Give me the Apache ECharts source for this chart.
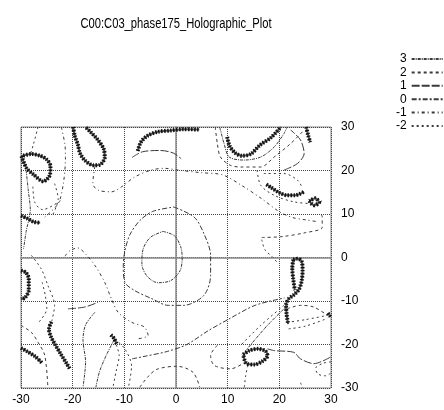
<!DOCTYPE html>
<html>
<head>
<meta charset="utf-8">
<script src="https://cdn.jsdelivr.net/npm/echarts@6/dist/echarts.min.js"></script>
<style>
  html, body { margin: 0; padding: 0; background: #fff; }
  #chart { width: 444px; height: 410px; }
</style>
</head>
<body>
<div id="chart"></div>
<script>
// contour levels shown in the legend
var levels = ['3', '2', '1', '0', '-1', '-2'];
var axisTicks = [-30, -20, -10, 0, 10, 20, 30];
var chartTitle = 'C00:C03_phase175_Holographic_Plot';

// contour lines per level, [x, y]
var contours3 = [
  [[-2.5,6],[-0.3,5],[0.9,2.5],[1.2,0],[0.8,-3],[-1,-5.3],[-3.5,-5.8],[-5.6,-4.3],[-6.6,-1.5],[-6.4,1.8],[-5,4.6],[-2.5,6]],
  [[-29,20],[-28.6,15.5],[-28.2,11],[-29,6],[-29.5,2]],
  [[8.5,29.8],[9.3,26.2],[10.3,23.1],[13.2,22.4],[16.4,23.1],[19,25.4],[20.9,28.5],[21.5,30]],
  [[21.6,-11],[17.7,-15.6],[13.5,-21.4]],
  [[-12,-19],[-13.5,-22.5],[-14.8,-26.2],[-15.5,-29.8]],
  [[-15.7,-12.6],[-17.5,-15.5],[-18,-19],[-17.5,-24],[-18,-29.8]]
];
var contours2 = [
  [[7.6,30],[8,26.2],[8.6,23.1],[10.5,21.2],[12.5,20.8],[16.4,20.8],[19,23.1],[22.2,26.2],[24.8,29.3]],
  [[21.5,-11.8],[24.1,-11],[26.7,-11.4],[29.3,-13.3]],
  [[16.6,4.6],[20.5,4.8],[25,5.7],[28.3,6.9],[28.3,9.4],[27.7,10.3]],
  [[8,-20.2],[6.7,-22.5],[7.4,-24.8],[10.6,-25.6],[13.2,-24.2]],
  [[-30,-15.6],[-28,-17.2],[-26.7,-19.5],[-25.4,-22.5],[-24.8,-29.8]],
  [[-7,-29.8],[-5.5,-27.5],[-3.7,-25.7],[0.2,-25],[3.3,-26.4],[4.6,-29.8]]
];
var contours1 = [
  [[17.7,-21],[19,-21.4],[22.8,-21.8],[24.1,-23.3],[26.7,-24.4],[29.9,-22.9]],
  [[20.9,20.1],[23.5,21.6],[24.8,23.9],[24.1,27],[22.2,29.3]],
  [[-8.5,23],[-6.5,24.3],[-3,24.6],[-0.5,24],[1,22.7]],
  [[-20.9,-11.8],[-17.7,-11.4],[-15.1,-10.3]]
];
var contours0 = [
  [[-0.4,11.6],[3.5,9.3],[5.4,5.5],[6.7,0.5],[6.7,-4.1],[5.4,-8.7],[1.5,-11],[-1.5,-11],[-4.8,-9.4],[-8,-7.6],[-9.9,-5.7],[-10.2,-2],[-9.9,1.5],[-8.9,5.3],[-7,8.5],[-4.5,10.6],[-0.4,11.6]],
  [[-8.5,-23.3],[-6.4,-22.8],[-1.7,-21.6],[2.1,-20],[6,-17],[10,-14.3],[15.3,-11],[21,-9.3]]
];
var contoursM1 = [
  [[-15.7,21],[-16.1,17],[-15.1,15.5],[-12.5,15.1],[-10.6,16.2],[-8,18.5],[-4.8,20.1],[-2.2,20.5],[0.4,20.1],[4.8,19.5],[9,19],[12.8,16.5],[16.6,13.5],[19.9,10.6],[22.5,9.2],[25.4,8.6],[27.6,8.2]],
  [[-22.2,30],[-21.5,26],[-21.4,23],[-21.8,17],[-22.8,12.4],[-25.4,9.3]],
  [[-21.5,0.3],[-20.5,1.6],[-19,2.2],[-17.5,0.8],[-15.7,-1.8],[-13.8,-5.7],[-12.5,-9.5],[-11.2,-12.6],[-8.6,-14.9],[-6.1,-16],[-5.4,-17.9],[-7.4,-18.7]]
];
var contoursM2 = [
  [[15.7,20.1],[16.4,16.6],[19,14.3],[22.8,12.8],[26.7,12.4],[28.6,13.2]],
  [[17,19.3],[20.9,19.3],[23.5,17.8],[24.5,15.9]],
  [[-23.5,17],[-22.8,13.5],[-24,9.5]],
  [[-25.9,-5.7],[-25.3,-8.7],[-25,-11.8],[-26.5,-14.8]],
  [[-12,-19],[-11,-22.5],[-11.6,-26.2],[-12.2,-29.8]],
  [[-11.8,-18.8],[-9.9,-21],[-8.6,-25],[-9.2,-29.8]],
  [[20.9,-11],[16.4,-15.6],[12.5,-20.2]],
  [[-26.7,30],[-27.6,26],[-28.3,23.3]],
  [[16.6,4.1],[17.2,1.8],[18.6,0.2],[19.5,-1]],
  [[21.5,-14.9],[25,-14.3],[29.3,-13.3]],
  [[21.8,-16.4],[25,-15.8],[29.3,-14]],
  [[-27.7,16.3],[-27.3,12.6],[-25.8,11],[-22.2,13.2]],
  [[-28,0.5],[-26.1,-2.6],[-24.8,-6.4],[-23.5,-11],[-24.1,-14.9]],
  [[30,-24],[28.5,-24.3],[27,-25.5],[27.5,-26.8],[29,-27.2],[30,-26.5]],
  [[13.9,-24.8],[13.5,-27.1],[13.2,-30]],
  [[24.1,-28.8],[24.5,-30]]
];

// dense bunched contours (phase wrap bands)
var wrapBands = [
  [[-29.9,23.3],[-28.9,20.5],[-27.6,19.1],[-25.7,17.5],[-24.4,19],[-24.3,21],[-25,22.5],[-26.3,23.4],[-28,23.8],[-29.9,23.3]],
  [[-19.9,30],[-19.6,28],[-19,26],[-18.6,24],[-17.6,22.3],[-16,21.2],[-14.8,21.3],[-13.8,23],[-14,25],[-15.3,27.3],[-16.5,28.8],[-17.5,30]],
  [[-7.4,24.5],[-6.8,26.5],[-5.5,28],[-3.5,28.9],[-1,29.2],[1.5,29.5],[4.5,29.4]],
  [[9.9,27.7],[10.4,25.6],[11.5,24],[12.8,23.4],[14.5,23.8],[16.2,25.8],[18.4,27.6],[20.3,30]],
  [[25.2,30],[25.6,28],[26,26.5]],
  [[17.5,16.8],[18.4,16.1],[20,14.9],[21.5,14.3],[23,14.3],[24.8,15.1]],
  [[25.8,13],[26.7,12],[27.7,12.6],[27,13.6],[25.8,13]],
  [[-30,9.6],[-28.8,9],[-27.5,8.2],[-26.3,8]],
  [[-30,-3],[-29,-3.5],[-28.5,-5],[-28.5,-7.5],[-29.2,-9.2],[-30,-9.6]],
  [[-24.1,-14.8],[-24.6,-16.5],[-24.2,-18.2],[-23.4,-20],[-22.3,-22.2],[-21.2,-24.3],[-20.6,-25.5]],
  [[-30,-20.8],[-28.8,-21.6],[-27.2,-22.8],[-26,-24.2]],
  [[-12.6,-17.8],[-12,-18.6],[-11.5,-19.8]],
  [[22.7,-0.5],[23.5,-0.3],[24.3,-0.8],[24.5,-3],[24.3,-5.5],[23.8,-7.3],[22.8,-8.6],[21.8,-9.5],[21.3,-11],[21.4,-13],[21.7,-15.3]],
  [[22.7,-0.5],[22.5,-2.5],[22.7,-5],[23,-7.5]],
  [[13,-22.3],[14.2,-21.4],[15.8,-21],[17.3,-21.5],[17.7,-22.6],[16.8,-23.8],[15.2,-24.6],[13.6,-24.3],[13,-22.3]],
  [[29.4,-12.8],[29.9,-13.6]]
];

var levelLines = {'3': contours3, '2': contours2, '1': contours1, '0': contours0, '-1': contoursM1, '-2': contoursM2};
var dashes = {'3': [3,1,1,1], '2': [3,3], '1': [8,2], '0': [5,2,2,2], '-1': [3,3,1,3], '-2': [2,3]};

var font = "'Liberation Sans', Arial, sans-serif";

var series = [];
levels.forEach(function (lv) {
  levelLines[lv].forEach(function (line) {
    series.push({
      name: lv,
      type: 'line',
      data: line,
      smooth: 0.3,
      symbol: 'none',
      lineStyle: {color: '#3a3a3a', width: 1, type: dashes[lv]}
    });
  });
});
// each band: a grey core plus a rough dotted dark edge
wrapBands.forEach(function (line) {
  series.push({
    name: 'wrap',
    type: 'line',
    data: line,
    smooth: 0.3,
    symbol: 'none',
    lineStyle: {color: '#555', width: 2, type: 'solid'}
  });
  series.push({
    name: 'wrap',
    type: 'line',
    data: line,
    smooth: 0.3,
    symbol: 'none',
    lineStyle: {color: '#111', width: 4, type: [1.5, 1.5], cap: 'butt'}
  });
});

var myChart = echarts.init(document.getElementById('chart'));
var option = {
  animation: false,
  graphic: [{
    type: 'text',
    x: 176,
    y: 24,
    scaleX: 0.8,
    style: {
      text: chartTitle,
      font: '14px ' + font,
      fill: '#000',
      align: 'center',
      verticalAlign: 'middle'
    }
  }],
  legend: {
    data: levels,
    orient: 'vertical',
    left: 391,
    top: 48,
    align: 'right',
    itemWidth: 31,
    itemHeight: 12,
    itemGap: 1.4,
    itemStyle: {color: 'transparent', borderColor: 'transparent', borderWidth: 0, opacity: 0},
    textStyle: {fontFamily: font, fontSize: 12, color: '#000', lineHeight: 12}
  },
  grid: {
    left: 21, right: 113, top: 127, bottom: 22,
    show: true, borderColor: '#888', borderWidth: 1
  },
  xAxis: {
    type: 'value',
    min: axisTicks[0], max: axisTicks[axisTicks.length - 1], interval: 10,
    axisLine: {show: true, lineStyle: {color: '#888', width: 1.5}},
    axisTick: {show: false},
    splitLine: {show: true, lineStyle: {color: '#444', width: 1, type: [1, 1]}},
    axisLabel: {color: '#000', fontSize: 12, fontFamily: font, margin: 6}
  },
  yAxis: {
    type: 'value',
    position: 'right',
    min: axisTicks[0], max: axisTicks[axisTicks.length - 1], interval: 10,
    axisLine: {show: true, lineStyle: {color: '#888', width: 1.5}},
    axisTick: {show: false},
    splitLine: {show: true, lineStyle: {color: '#444', width: 1, type: [1, 1]}},
    axisLabel: {color: '#000', fontSize: 12, fontFamily: font, margin: 10}
  },
  series: series
};
myChart.setOption(option);
</script>
</body>
</html>
